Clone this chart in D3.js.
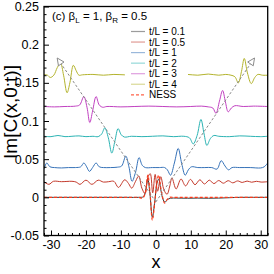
<!DOCTYPE html>
<html><head><meta charset="utf-8">
<script src="https://cdn.jsdelivr.net/npm/d3@7"></script>
<style>body{margin:0;background:#fff}svg{display:block}text{font-family:"Liberation Sans",Arial,Helvetica,sans-serif}</style>
</head><body><svg id="c" width="274" height="274"></svg>
<script>
// ---------- data ----------
const xTicks=[-30,-20,-10,0,10,20,30];
const xTickLabels=["-30","-20","-10","0","10","20","30"];
const yTicks=[-0.05,0,0.05,0.1,0.15,0.2,0.25];
const yTickLabels=["-0.05","0","0.05","0.1","0.15","0.2","0.25"];
const seriesNames=["t/L = 0.1","t/L = 0.5","t/L = 1","t/L = 2","t/L = 3","t/L = 4","NESS"];
const seriesColors=["#3a3a3a","#c33a2c","#3672b8","#2bb3b3","#c040c0","#b3b32d","#ff3a1a"];

const x_t01=[-32,-28,-24,-20,-16,-12,-8,-5,-3.5,-2.8,-2.3,-1.7,-1.0,-0.3,0.3,0.8,1.5,2.0,2.6,3.3,4.2,6,9,12,15,18,21,24,28,32];
const y_t01=[0,0,0,0,0,0,0,0,0.001,0.012,0.024,0.005,-0.026,-0.005,0.018,0.024,0.008,-0.002,-0.0065,-0.003,-0.0012,-0.001,-0.0012,-0.001,-0.0012,-0.001,-0.0005,0,0,0];

const x_t05=[-32,-30.6,-29.3,-27,-24,-22.8,-21.7,-20,-18.3,-16.5,-15,-13.5,-12,-10.7,-8.9,-7.8,-6.9,-5.8,-4.9,-4.0,-3.1,-2.3,-1.6,-0.9,-0.2,0.5,1.4,2.3,3.2,4.0,4.6,5.8,7.2,8.5,9.9,11.2,12.6,13.9,15.3,16.6,18.0,19.3,20.7,22.0,23.4,24.7,26.1,27.4,28.8,30.1,32];
const y_t05=[0.0205,0.017,0.021,0.0205,0.021,0.020,0.017,0.0225,0.017,0.0225,0.020,0.0205,0.021,0.013,0.023,0.018,0.012,0.021,0.028,0.012,0.005,0.026,0.031,0.006,0.030,0.008,0.027,0.010,0.004,0.015,0.0255,0.011,0.024,0.015,0.0235,0.0165,0.023,0.0175,0.0225,0.018,0.022,0.0185,0.0218,0.019,0.0215,0.0195,0.0213,0.0198,0.021,0.020,0.0205];

const x_t1=[-32,-31.2,-30.3,-29,-27,-25,-23,-21.5,-20.6,-19.8,-19.0,-18.1,-17.1,-16.2,-15,-13,-11,-9.8,-8.6,-7.7,-6.8,-5.8,-4.8,-3.9,-3,-1,1,2.5,3.3,4.2,5.3,6.4,7.4,8.4,9.3,10.2,12,14,16,17.5,18.7,19.8,20.8,21.8,24,27,30,31,32];
const y_t1=[0.037,0.045,0.040,0.039,0.0385,0.039,0.039,0.040,0.045,0.040,0.034,0.039,0.045,0.040,0.039,0.039,0.0395,0.041,0.054,0.040,0.021,0.033,0.052,0.042,0.039,0.039,0.039,0.039,0.036,0.029,0.045,0.064,0.044,0.029,0.036,0.040,0.039,0.039,0.039,0.037,0.048,0.041,0.036,0.039,0.039,0.039,0.0385,0.040,0.045];

const x_t2=[-32,-30,-28,-26,-24,-22,-20,-18,-16.5,-15.5,-14.6,-13.6,-12.6,-11.7,-10.8,-9.9,-9,-7,-4,-1,2,5,8,9.6,10.7,11.8,12.9,13.8,14.6,15.6,16.6,18,21,24,27,30,32];
const y_t2=[0.080,0.0795,0.081,0.0795,0.080,0.0805,0.0795,0.080,0.0795,0.083,0.091,0.078,0.058,0.074,0.090,0.082,0.079,0.080,0.0795,0.080,0.0805,0.0795,0.080,0.078,0.070,0.081,0.102,0.083,0.068,0.077,0.081,0.080,0.0795,0.0805,0.080,0.0795,0.080];

const x_t3=[-32,-29,-26,-23,-21.8,-20.6,-19.7,-18.9,-18.1,-17.1,-16.2,-15.2,-14,-10,-6,-2,2,6,10,13,15,16.3,17.2,18.2,19.1,19.9,20.7,21.6,22.6,25,28,32];
const y_t3=[0.119,0.1185,0.119,0.1195,0.121,0.132,0.118,0.098,0.113,0.132,0.121,0.118,0.119,0.1185,0.119,0.1195,0.119,0.1185,0.119,0.1195,0.1185,0.117,0.110,0.126,0.140,0.125,0.112,0.117,0.120,0.119,0.1195,0.119];

const x_t4=[-32,-31,-30.2,-29.2,-28.2,-27.3,-26.4,-25.4,-24.6,-23.6,-22.8,-22,-21,-18,-15,-12,-9,-5,0,5,9,12,15,18,20,21.5,22.6,23.6,24.5,25.3,26.2,27.3,28.3,29.2,30.5,32];
const y_t4=[0.161,0.160,0.157,0.160,0.170,0.176,0.160,0.137,0.150,0.173,0.166,0.160,0.1605,0.161,0.160,0.161,0.1605,0.161,0.161,0.1605,0.161,0.160,0.1615,0.160,0.161,0.160,0.158,0.150,0.165,0.182,0.163,0.149,0.157,0.161,0.160,0.160];

const x_ness=[-32,-28,-24,-20,-16,-12,-8,-5,-3.8,-3.0,-2.3,-1.7,-1.0,-0.3,0.3,0.8,1.5,2.0,2.5,3.2,4.0,5,8,12,16,20,24,28,32];
const y_ness=[0,0,0,0,0,0,0,0,-0.001,0.006,0.029,0.008,-0.030,-0.006,0.020,0.029,0.010,-0.001,-0.0075,-0.003,0,0,0,0,0,0,0,0,0];

// light-cone arrows (start -> end)
const arrowX0=[0,0], arrowY0=[-0.006,-0.006];
const arrowX1=[-28.3,28.3], arrowY1=[0.183,0.183];

const title={pre:"(c) β",s1:"L",mid:" = 1, β",s2:"R",post:" = 0.5"};
const xLabel="x", yLabel="Im[C(x,0;t)]";

// ---------- drawing ----------
const svg=d3.select("#c");
const L=44,R=267.7,T=6.5,B=235.5;
const x=d3.scaleLinear().domain([-32,32]).range([L,R]);
const y=d3.scaleLinear().domain([-0.05,0.25]).range([B,T]);

const series=[[x_t01,y_t01],[x_t05,y_t05],[x_t1,y_t1],[x_t2,y_t2],[x_t3,y_t3],[x_t4,y_t4],[x_ness,y_ness]];

svg.append("defs").append("clipPath").attr("id","clip").append("rect").attr("x",L).attr("y",T).attr("width",R-L).attr("height",B-T);
const mk=svg.select("defs").append("marker").attr("id","arr").attr("viewBox","0 0 10 10")
  .attr("refX",10).attr("refY",5).attr("markerWidth",9).attr("markerHeight",8)
  .attr("markerUnits","userSpaceOnUse").attr("orient","auto");
mk.append("path").attr("d","M0.5,0.8 L9.5,5 L0.5,9.2 Z").attr("fill","#fff").attr("stroke","#888").attr("stroke-width",1.1);

const line=d3.line().curve(d3.curveCatmullRom.alpha(0.5)).x(d=>x(d[0])).y(d=>y(d[1]));
const g=svg.append("g").attr("clip-path","url(#clip)");
series.forEach((s,i)=>{
  const pts=s[0].map((v,k)=>[v,s[1][k]]);
  g.append("path").attr("d",line(pts)).attr("fill","none")
   .attr("stroke",seriesColors[i]).attr("stroke-width",i===6?1.2:1)
   .attr("stroke-dasharray",i===6?"3,2":null);
});

// arrows
arrowX0.forEach((v,i)=>{
  svg.append("line").attr("x1",x(v)).attr("y1",y(arrowY0[i])).attr("x2",x(arrowX1[i])).attr("y2",y(arrowY1[i]))
   .attr("stroke","#888").attr("stroke-width",1).attr("stroke-dasharray","2.5,2").attr("marker-end","url(#arr)");
});

// legend
const lg=svg.append("g");
lg.append("rect").attr("x",125).attr("y",24).attr("width",63).attr("height",76).attr("fill","#fff");
seriesNames.forEach((n,i)=>{
  const yy=31.5+i*10.55;
  lg.append("line").attr("x1",131).attr("x2",145).attr("y1",yy).attr("y2",yy)
    .attr("stroke",seriesColors[i]).attr("stroke-opacity",i===6?0.8:0.5).attr("stroke-width",1.2)
    .attr("stroke-dasharray",i===6?"3,2":null);
  lg.append("text").attr("x",149).attr("y",yy).attr("dy","0.35em").attr("font-size",10).attr("fill","#000").text(n);
});

// axes
const xa=d3.axisBottom(x).tickValues(xTicks).tickFormat((d,i)=>xTickLabels[i]).tickSize(-5).tickPadding(5);
const ya=d3.axisLeft(y).tickValues(yTicks).tickFormat((d,i)=>yTickLabels[i]).tickSize(-5).tickPadding(5);
const xMinor=d3.range(-32,33,2).filter(v=>v%10!==0);
const yMinor=d3.range(-5,26,1).map(v=>v/100).filter((v,i)=>Math.round(v*100)%5!==0);
const gx=svg.append("g").attr("transform",`translate(0,${B})`).call(xa);
const gy=svg.append("g").attr("transform",`translate(${L},0)`).call(ya);
svg.append("g").attr("transform",`translate(0,${B})`).call(d3.axisBottom(x).tickValues(xMinor).tickSize(-2.5).tickFormat(""));
svg.append("g").attr("transform",`translate(${L},0)`).call(d3.axisLeft(y).tickValues(yMinor).tickSize(-2.5).tickFormat(""));
svg.selectAll(".domain").remove();
svg.selectAll(".tick line").attr("stroke","#000").attr("stroke-width",1);
[gx,gy].forEach(a=>a.selectAll("text").attr("font-size",12.5).attr("fill","#000").attr("font-family",'"Liberation Sans",Arial,sans-serif'));
svg.append("rect").attr("x",L).attr("y",T).attr("width",R-L).attr("height",B-T).attr("fill","none").attr("stroke","#000").attr("stroke-width",1.3);

// title
const tt=svg.append("text").attr("x",52).attr("y",20).attr("font-size",11.5).attr("fill","#000");
tt.append("tspan").text(title.pre);
tt.append("tspan").attr("font-size",8).attr("dy",3).text(title.s1);
tt.append("tspan").attr("dy",-3).text(title.mid);
tt.append("tspan").attr("font-size",8).attr("dy",3).text(title.s2);
tt.append("tspan").attr("dy",-3).text(title.post);

// axis labels
svg.append("text").attr("x",156).attr("y",268).attr("text-anchor","middle").attr("font-size",18).attr("fill","#000").text(xLabel);
svg.append("text").attr("transform","translate(16.5,112) rotate(-90)").attr("text-anchor","middle").attr("font-size",19).attr("fill","#000").text(yLabel);
</script></body></html>
